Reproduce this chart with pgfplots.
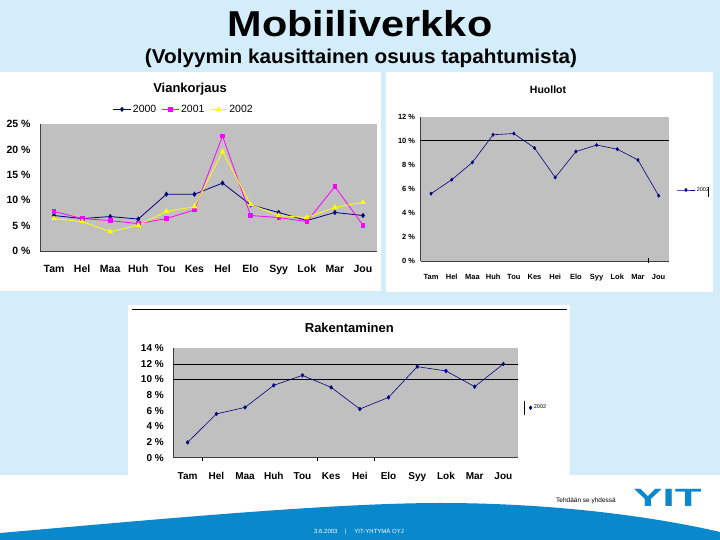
\documentclass[border=0pt]{standalone}
\usepackage{fontspec}
\setmainfont{Liberation Sans}
\usepackage{pgfplots}
\pgfplotsset{compat=1.18}
\definecolor{bgblue}{HTML}{D4EDFA}
\definecolor{plotgray}{HTML}{C0C0C0}
\definecolor{navy}{HTML}{000080}
\definecolor{mag}{HTML}{FF00FF}
\definecolor{yel}{HTML}{FFFF00}
\definecolor{yitblue}{HTML}{0A88CC}
\pgfplotsset{
  slide/.style={scale only axis, anchor=south west, xmin=-0.5, xmax=11.5,
    axis background/.style={fill=plotgray},
    axis x line*=bottom, axis y line*=left,
    axis line style={-, draw=gray!50!black, line width=0.6pt},
    tick style={draw=none}, xtick={0,...,11}},
}
\begin{document}
\begin{tikzpicture}[x=1pt,y=1pt]
\useasboundingbox (0,0) rectangle (720,540);
\fill[white] (0,0) rectangle (720,540);
\fill[bgblue] (0,65) rectangle (720,540);
% white boxes
\fill[white] (0,249) rectangle (381,468);
\fill[white] (386,248) rectangle (713,468);
\fill[white] (128,50) rectangle (570,235);
\draw[black, line width=0.8pt] (132,231) -- (567,231);
% main titles
\node[font=\fontsize{36}{40}\selectfont\bfseries] at (360,516) {\scalebox{1.15}[1]{Mobiiliverkko}};
\node[font=\fontsize{20}{24}\selectfont\bfseries] at (361,482) {\scalebox{1.035}[1]{(Volyymin kausittainen osuus tapahtumista)}};
% ---------- Chart 1: Viankorjaus ----------
\node[font=\fontsize{13}{15}\selectfont\bfseries] at (190,451) {Viankorjaus};
\begin{axis}[slide, at={(40pt,289pt)}, width=337pt, height=126.7pt,
  ymin=0, ymax=25, ytick={0,5,...,25},
  yticklabels={0 \%,5 \%,10 \%,15 \%,20 \%,25 \%},
  xticklabels={Tam,Hel,Maa,Huh,Tou,Kes,Hel,Elo,Syy,Lok,Mar,Jou},
  ticklabel style={font=\fontsize{10.5}{12}\selectfont\bfseries},
  yticklabel style={xshift=-6pt},
  xticklabel style={yshift=-10pt, text height=7.6pt, text depth=2.2pt},
  legend columns=3,
  legend style={draw=none, fill=none, at={(0.427,1.118)}, anchor=center,
    font=\fontsize{10.5}{12}\selectfont,
    /tikz/every even column/.append style={column sep=3pt}},
]
\addplot[navy, line width=0.8pt, mark=diamond*, mark size=2pt] coordinates {
(0,7.0) (1,6.4) (2,6.8) (3,6.3) (4,11.2) (5,11.2) (6,13.4) (7,9.1) (8,7.6) (9,6.0) (10,7.6) (11,7.0)};
\addplot[mag, line width=0.8pt, mark=square*, mark size=1.8pt] coordinates {
(0,7.8) (1,6.4) (2,6.0) (3,5.4) (4,6.4) (5,8.1) (6,22.7) (7,7.0) (8,6.6) (9,5.8) (10,12.7) (11,5.1)};
\addplot[yel, line width=0.8pt, mark=triangle*, mark size=2.5pt] coordinates {
(0,6.4) (1,5.8) (2,3.8) (3,5.1) (4,7.8) (5,8.75) (6,19.6) (7,9.2) (8,7.0) (9,6.6) (10,8.6) (11,9.6)};
\legend{2000,2001,2002}
\end{axis}
% ---------- Chart 2: Huollot ----------
\node[font=\fontsize{10.5}{12}\selectfont\bfseries] at (548,450) {Huollot};
\begin{axis}[slide, at={(420.7pt,279pt)}, width=248.3pt, height=144.3pt,
  ymin=0, ymax=12, ytick={0,2,...,12},
  yticklabels={0 \%,2 \%,4 \%,6 \%,8 \%,10 \%,12 \%},
  xticklabels={Tam,Hel,Maa,Huh,Tou,Kes,Hei,Elo,Syy,Lok,Mar,Jou},
  ticklabel style={font=\fontsize{7.5}{9}\selectfont\bfseries},
  yticklabel style={xshift=-2pt},
  xticklabel style={yshift=-9pt, text height=5.5pt, text depth=1.6pt},
  extra y ticks={10}, extra y tick labels={},
  extra y tick style={grid=major, major grid style={black, line width=0.7pt}},
  extra x ticks={10.5}, extra x tick labels={},
  extra x tick style={major tick style={draw=black, line width=0.5pt}, major tick length=5pt, tick align=center},
  legend style={draw=none, fill=none, at={(1.028,0.492)}, anchor=west,
    font=\fontsize{5.5}{6.5}\selectfont, inner sep=1pt},
]
\addplot[navy, line width=0.6pt, mark=diamond*, mark size=1.6pt] coordinates {
(0,5.6) (1,6.76) (2,8.2) (3,10.5) (4,10.6) (5,9.4) (6,6.95) (7,9.1) (8,9.64) (9,9.3) (10,8.4) (11,5.43)};
\legend{2002}
\end{axis}
\draw[black, line width=0.5pt] (708,343.3) -- (708,353.3);
% ---------- Chart 3: Rakentaminen ----------
\node[font=\fontsize{13}{15}\selectfont\bfseries] at (349.3,212.3) {Rakentaminen};
\begin{axis}[slide, at={(173.3pt,82.3pt)}, width=344.4pt, height=109.4pt,
  ymin=0, ymax=14, ytick={0,2,...,14},
  yticklabels={0 \%,2 \%,4 \%,6 \%,8 \%,10 \%,12 \%,14 \%},
  xticklabels={Tam,Hel,Maa,Huh,Tou,Kes,Hei,Elo,Syy,Lok,Mar,Jou},
  ticklabel style={font=\fontsize{10}{12}\selectfont\bfseries},
  yticklabel style={xshift=-6pt},
  xticklabel style={yshift=-11pt, text height=7.3pt, text depth=2.1pt},
  extra y ticks={10,12}, extra y tick labels={},
  extra y tick style={grid=major, major grid style={black, line width=0.7pt}},
  extra x ticks={0.5,4.5,6.5}, extra x tick labels={},
  extra x tick style={major tick style={draw=black, line width=0.6pt}, major tick length=3.5pt, tick align=outside},
  legend image code/.code={\draw[#1] plot coordinates {(0.1cm,0cm)};},
  legend style={draw=none, fill=none, at={(1.03,0.457)}, anchor=west,
    font=\fontsize{5.5}{6.5}\selectfont, inner sep=1pt},
]
\addplot[navy, line width=0.6pt, mark=diamond*, mark size=1.8pt] coordinates {
(0,1.96) (1,5.6) (2,6.44) (3,9.26) (4,10.54) (5,9.0) (6,6.23) (7,7.72) (8,11.65) (9,11.1) (10,9.09) (11,11.99)};
\legend{2002}
\end{axis}
\draw[black, line width=0.5pt] (524,125) -- (524,139);
% ---------- footer ----------
\fill[yitblue] (0,0) -- (0,7) .. controls (150,20) and (330,37) .. (440,37)
  .. controls (560,37) and (660,22) .. (720,8) -- (720,0) -- cycle;
\node[white, font=\fontsize{6}{7}\selectfont] at (359,8) {3.6.2003 \quad | \quad YIT-YHTYMÄ OYJ};
\node[font=\fontsize{6.5}{7.5}\selectfont] at (586,39.3) {Tehdään se yhdessä};
\node[yitblue, font=\fontsize{25}{28}\selectfont\bfseries] at (667.5,42) {\scalebox{1.75}[1]{YIT}};
\end{tikzpicture}
\end{document}
